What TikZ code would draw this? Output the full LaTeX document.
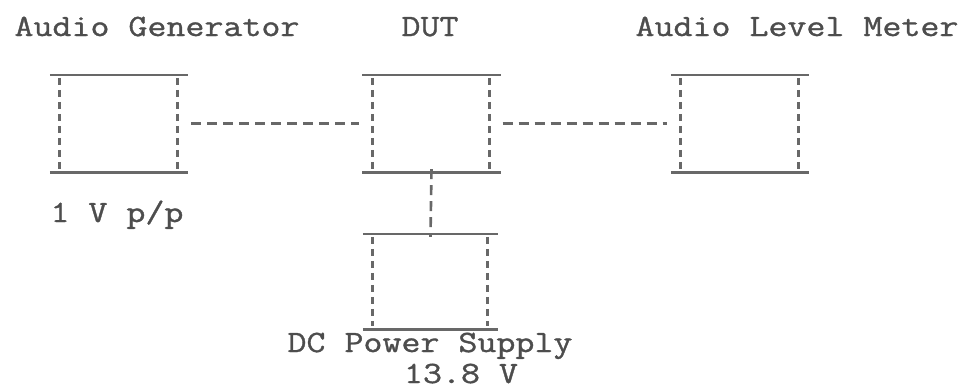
\documentclass[tikz,border=0pt]{standalone}
\usepackage{fontspec}
\newfontfamily\courierish[FakeStretch=1.19,FakeBold=1.1]{Latin Modern Mono}
\begin{document}
\begin{tikzpicture}[x=1pt,y=-1pt,
  lbl/.style={font=\courierish\fontsize{31}{36}\selectfont, text=ink, anchor=base, inner sep=0pt},
  unit/.style={rectangle, minimum width=138pt, minimum height=97pt, inner sep=0pt},
  solidedge/.style={draw=ink!85, line width=2.6pt},
  dashedge/.style={draw=ink!85, line width=2.8pt, dash pattern=on 7pt off 5pt},
  wire/.style={draw=ink!85, line width=2.6pt, dash pattern=on 10pt off 6pt}]
\definecolor{ink}{HTML}{4D4D4D}
\useasboundingbox (0,0) rectangle (967,389);
% units
\node[unit] (gen) at (119,123.5) {};
\node[unit] (dut) at (431.5,123.5) {};
\node[unit] (meter) at (740,123.5) {};
\node[unit, minimum height=95pt, minimum width=135pt] (psu) at (430.5,281.5) {};
% box edges
\foreach \n in {gen,dut,meter,psu}{
  \draw[solidedge] (\n.north west) -- (\n.north east);
  \draw[solidedge] (\n.south west) -- (\n.south east);
  \draw[dashedge] ([xshift=10pt,yshift=-3pt]\n.north west) -- ([xshift=10pt,yshift=3pt]\n.south west);
  \draw[dashedge] ([xshift=-11pt,yshift=-3pt]\n.north east) -- ([xshift=-11pt,yshift=3pt]\n.south east);
}
% connectors
\draw[wire] ([xshift=3pt]gen.east) -- ([xshift=-3pt]dut.west);
\draw[wire] ([xshift=2pt]dut.east) -- ([xshift=-4pt]meter.west);
\draw[wire] ([yshift=3pt]dut.south) -- ([yshift=-3pt]psu.north);
% labels
\node[lbl] (tgen) at (157,36) {Audio Generator};
\node[lbl] (tdut) at (430,36) {DUT};
\node[lbl] (tmeter) at (797,36) {Audio Level Meter};
\node[lbl] (tvpp) at (117,222) {1 V p/p};
\node[lbl] (tpsu) at (430,352) {DC Power Supply};
\node[lbl] (tvolt) at (461,383) {13.8 V};
\end{tikzpicture}
\end{document}
